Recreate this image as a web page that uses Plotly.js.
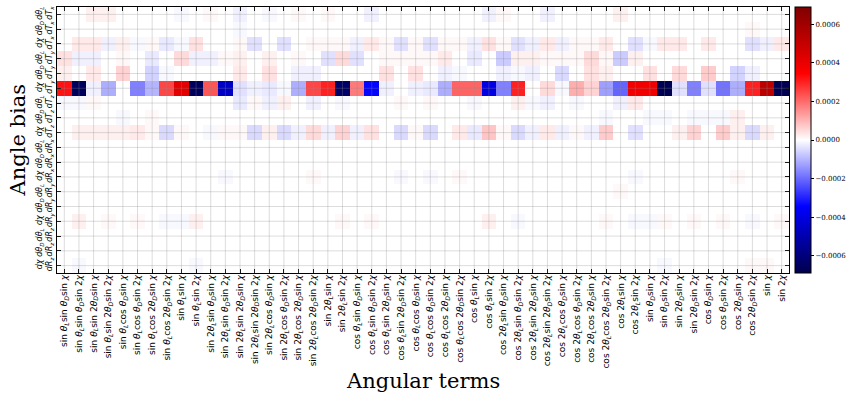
<!DOCTYPE html>
<html>
<head>
<meta charset="utf-8">
<script src="https://cdn.plot.ly/plotly-3.0.1.min.js"></script>
<style>html,body{margin:0;padding:0;background:#fff;}#chart{width:854px;height:393px;}</style>
</head>
<body>
<div id="chart"></div>
<script>
// ---- Column categories (angular terms) ----
const angularTerms = [
  'sin θ_Lsin θ_Dsin χ','sin θ_Lsin θ_Dsin 2χ','sin θ_Lsin 2θ_Dsin χ','sin θ_Lsin 2θ_Dsin 2χ',
  'sin θ_Lcos θ_Dsin χ','sin θ_Lcos θ_Dsin 2χ','sin θ_Lcos 2θ_Dsin χ','sin θ_Lcos 2θ_Dsin 2χ',
  'sin θ_Lsin χ','sin θ_Lsin 2χ',
  'sin 2θ_Lsin θ_Dsin χ','sin 2θ_Lsin θ_Dsin 2χ','sin 2θ_Lsin 2θ_Dsin χ','sin 2θ_Lsin 2θ_Dsin 2χ',
  'sin 2θ_Lcos θ_Dsin χ','sin 2θ_Lcos θ_Dsin 2χ','sin 2θ_Lcos 2θ_Dsin χ','sin 2θ_Lcos 2θ_Dsin 2χ',
  'sin 2θ_Lsin χ','sin 2θ_Lsin 2χ',
  'cos θ_Lsin θ_Dsin χ','cos θ_Lsin θ_Dsin 2χ','cos θ_Lsin 2θ_Dsin χ','cos θ_Lsin 2θ_Dsin 2χ',
  'cos θ_Lcos θ_Dsin χ','cos θ_Lcos θ_Dsin 2χ','cos θ_Lcos 2θ_Dsin χ','cos θ_Lcos 2θ_Dsin 2χ',
  'cos θ_Lsin χ','cos θ_Lsin 2χ',
  'cos 2θ_Lsin θ_Dsin χ','cos 2θ_Lsin θ_Dsin 2χ','cos 2θ_Lsin 2θ_Dsin χ','cos 2θ_Lsin 2θ_Dsin 2χ',
  'cos 2θ_Lcos θ_Dsin χ','cos 2θ_Lcos θ_Dsin 2χ','cos 2θ_Lcos 2θ_Dsin χ','cos 2θ_Lcos 2θ_Dsin 2χ',
  'cos 2θ_Lsin χ','cos 2θ_Lsin 2χ',
  'sin θ_Dsin χ','sin θ_Dsin 2χ','sin 2θ_Dsin χ','sin 2θ_Dsin 2χ',
  'cos θ_Dsin χ','cos θ_Dsin 2χ','cos 2θ_Dsin χ','cos 2θ_Dsin 2χ',
  'sin χ','sin 2χ'
];

// ---- Row categories (angle derivatives) ----
const angleBiasRows = [
  'dθ_L/dT_x','dθ_D/dT_x','dχ/dT_x',
  'dθ_L/dT_y','dθ_D/dT_y','dχ/dT_y',
  'dθ_L/dT_z','dθ_D/dT_z','dχ/dT_z',
  'dθ_L/dR_x','dθ_D/dR_x','dχ/dR_x',
  'dθ_L/dR_y','dθ_D/dR_y','dχ/dR_y',
  'dθ_L/dR_z','dθ_D/dR_z','dχ/dR_z'
];

// ---- Values, in units of 1e-5 (one array per row) ----
const UNIT = 1e-5;
const dthL_dTx = [0,0,2,2,0,0,0,0,-1,0, 1,0,-2,0,-1,0,1,0,1,0, 0,-2,0,0,0,0,0,0,0,-2, 1,0,0,-2,0,0,0,0,2,0, 0,0,0,0,0,0,0,0,0,0];
const dthD_dTx = [0,0,0,0,0,0,0,0,0,0, 0,0,-1,0,0,0,0,0,0,0, 0,0,0,0,0,0,0,0,0,0, 0,0,0,0,0,0,0,0,0,0, 0,0,0,0,0,0,0,1,0,0];
const dchi_dTx = [0,3,3,-2,2,-1,1,-3,-1,4, 0,0,1,-4,0,-4,0,1,1,1, -2,3,1,-4,1,-4,1,1,-2,4, 1,-4,-2,3,-2,1,1,3,0,-4, -1,3,3,0,3,0,0,-4,-2,3];
const dthL_dTy = [4,-2,-2,0,1,0,-3,0,5,-2, -2,1,2,0,2,0,1,0,-4,5, -4,0,1,1,1,1,3,0,-3,0, -7,2,2,1,1,1,5,1,-7,2, 0,0,0,0,0,0,0,0,0,0];
const dthD_dTy = [2,0,3,0,6,0,-6,-1,0,0, 0,0,3,0,4,0,-2,-2,0,0, 0,0,4,0,4,0,-2,-1,0,0, -2,-1,-2,0,-5,0,4,2,0,0, 4,0,5,0,7,0,-6,-2,0,0];
const dchi_dTy = [32,-66,-2,-11,0,-17,-10,25,42,-66, 23,-46,-4,-2,-3,-1,-11,25,30,-64, 18,-34,-2,0,-2,-3,-11,21,21,-40, -17,30,0,5,-1,11,6,-13,-21,38, 38,-68,-4,-17,-4,-19,-11,30,53,-68];
const dthL_dTz = [-1,-1,1,0,0,0,0,0,0,0, 0,0,-3,1,-2,2,0,-2,0,-1, 0,0,0,1,0,1,0,0,-1,0, 0,2,-1,-2,0,-1,0,0,-2,3, 0,0,0,0,0,0,0,0,0,0];
const dthD_dTz = [0,0,0,0,-1,0,1,0,0,0, 0,0,0,0,0,0,0,0,0,0, 0,0,0,0,0,0,0,0,0,0, 0,0,0,0,0,0,0,-1,0,0, -1,-1,0,-1,-1,-1,2,0,0,0];
const dchi_dTz = [0,2,2,2,2,3,1,-5,1,0, -1,1,1,-5,2,-5,-2,5,-2,6, -2,4,0,-5,1,-5,0,3,-3,8, 1,-5,-2,3,-2,1,-2,7,0,-4, 0,0,2,6,0,7,2,-5,2,0];
const dthL_dRx = [0,0,0,0,0,0,0,0,0,0, 0,0,0,0,0,0,0,0,0,0, 0,0,0,0,0,0,0,0,0,0, 0,0,0,0,0,0,0,0,0,0, 0,0,0,0,0,0,0,0,0,0];
const dthD_dRx = [0,0,0,0,0,0,0,0,0,0, 0,0,0,0,0,0,0,0,0,0, 0,0,0,0,0,0,0,0,0,0, 0,0,0,0,0,0,0,0,0,0, 0,0,0,0,0,0,0,0,0,0];
const dchi_dRx = [0,0,0,0,0,0,0,0,0,0, 0,-1,0,0,0,0,0,1,0,0, 0,0,0,-1,0,-1,0,1,0,0, 0,0,0,0,0,0,0,0,0,-1, 0,0,0,0,0,0,1,0,0,0];
const dthL_dRy = [0,0,0,0,0,0,0,0,0,0, 0,0,0,0,0,0,0,0,0,0, 0,0,0,0,0,0,0,0,0,0, 0,0,0,0,0,0,0,0,1,0, 0,0,0,0,0,0,0,0,0,0];
const dthD_dRy = [0,0,0,0,0,0,0,0,0,0, 0,0,0,0,0,0,0,0,0,0, 0,0,0,0,0,0,0,0,0,0, 0,0,0,0,0,0,0,0,0,0, 0,0,0,0,0,0,0,0,0,0];
const dchi_dRy = [0,2,0,1,0,1,0,-1,-1,2, 0,0,0,0,0,0,0,0,0,1, 0,1,0,0,0,0,0,0,0,2, 0,-1,0,0,0,0,0,1,0,-1, -1,1,0,1,0,1,0,-1,0,1];
const dthL_dRz = [0,0,0,0,0,0,0,0,0,0, 0,0,0,0,0,0,0,0,0,0, 0,0,0,0,0,0,0,0,0,0, 0,0,0,0,0,0,0,0,0,0, 0,0,0,0,0,0,0,0,0,0];
const dthD_dRz = [0,0,0,0,0,0,0,0,0,0, 0,0,0,0,0,0,0,0,0,0, 0,0,0,0,0,0,0,0,0,0, 0,0,0,0,0,0,0,0,0,0, 0,0,0,0,0,0,0,0,0,0];
const dchi_dRz = [0,-1,0,0,0,0,0,0,0,-1, 0,0,0,0,0,0,0,0,0,0, 0,0,0,0,0,0,0,0,0,0, 0,0,0,0,0,0,0,0,0,0, 0,-1,0,0,0,0,0,1,1,0];

const colorbarTicks = [-0.0006,-0.0004,-0.0002,0,0.0002,0.0004,0.0006];
const colorLimit = 0.00069;

// ---- Build ----
const rows = [dthL_dTx,dthD_dTx,dchi_dTx,dthL_dTy,dthD_dTy,dchi_dTy,dthL_dTz,dthD_dTz,dchi_dTz,
              dthL_dRx,dthD_dRx,dchi_dRx,dthL_dRy,dthD_dRy,dchi_dRy,dthL_dRz,dthD_dRz,dchi_dRz];
const z = rows.map(r => r.map(v => v * UNIT));
const xIdx = angularTerms.map((_, i) => i);
const yIdx = angleBiasRows.map((_, i) => i);

function fmtTerm(s) {
  return s.replace(/θ_([LD])/g, '<i>θ</i><sub><i>$1</i></sub>').replace(/χ/g, '<i>χ</i>');
}
function fmtFrac(s) {
  const parts = s.split('/').map(p => '<i>' + p.replace(/_(\w)/g, '<sub>$1</sub>') + '</i>');
  return parts[0] + '<br>' + parts[1];
}

const seismic = [[0,'rgb(0,0,77)'],[0.25,'rgb(0,0,255)'],[0.5,'rgb(255,255,255)'],[0.75,'rgb(255,0,0)'],[1,'rgb(128,0,0)']];

const trace = {
  type: 'heatmap',
  x: xIdx, y: yIdx, z: z,
  colorscale: seismic, zmin: -colorLimit, zmax: colorLimit,
  colorbar: {
    thickness: 16, len: 1, lenmode: 'fraction', x: 1.008, xanchor: 'left', xpad: 0,
    y: 0.5, yanchor: 'middle', ypad: 0, outlinewidth: 1, outlinecolor: '#000',
    tickvals: colorbarTicks, tickformat: '.4f', ticks: 'outside', ticklen: 3, tickcolor: '#000',
    tickfont: {family: 'DejaVu Serif', size: 7, color: '#000'}
  },
  hoverongaps: false
};

const gridColor = 'rgba(140,140,140,0.3)';
const shapes = [];
xIdx.forEach(i => shapes.push({type:'line', xref:'x', yref:'y domain', x0:i, x1:i, y0:0, y1:1, line:{color:gridColor, width:1}, layer:'above'}));
yIdx.forEach(j => shapes.push({type:'line', xref:'x domain', yref:'y', x0:0, x1:1, y0:j, y1:j, line:{color:gridColor, width:1}, layer:'above'}));

const axisCommon = {
  ticks: 'inside', ticklen: 4, tickwidth: 1, tickcolor: '#000',
  showline: true, linecolor: '#000', linewidth: 1.3, mirror: 'ticks',
  showgrid: false, zeroline: false, tickangle: -90
};

const layout = {
  width: 854, height: 393,
  margin: {l: 57, r: 57, t: 7, b: 120, pad: 0},
  paper_bgcolor: '#fff', plot_bgcolor: '#fff',
  xaxis: Object.assign({}, axisCommon, {
    tickmode: 'array', tickvals: xIdx, ticktext: angularTerms.map(fmtTerm),
    range: [-0.5, angularTerms.length - 0.5],
    ticklabelstandoff: -3,
    tickfont: {family: 'DejaVu Sans', size: 9, color: '#000'}
  }),
  yaxis: Object.assign({}, axisCommon, {
    tickmode: 'array', tickvals: yIdx, ticktext: angleBiasRows.map(fmtFrac),
    range: [angleBiasRows.length - 0.5, -0.5],
    tickfont: {family: 'DejaVu Sans', size: 8, color: '#000'}
  }),
  shapes: shapes,
  annotations: [
    {text: 'Angle bias', xref: 'paper', yref: 'paper', x: -0.0527, y: 0.5, textangle: -90,
     showarrow: false, xanchor: 'center', yanchor: 'middle', font: {family: 'DejaVu Serif', size: 21, color: '#000'}},
    {text: 'Angular terms', xref: 'paper', yref: 'paper', x: 0.5, y: -0.405,
     showarrow: false, xanchor: 'center', yanchor: 'middle', font: {family: 'DejaVu Serif', size: 21, color: '#000'}}
  ],
  showlegend: false
};

Plotly.newPlot('chart', [trace], layout, {displayModeBar: false, staticPlot: true});
</script>
</body>
</html>
